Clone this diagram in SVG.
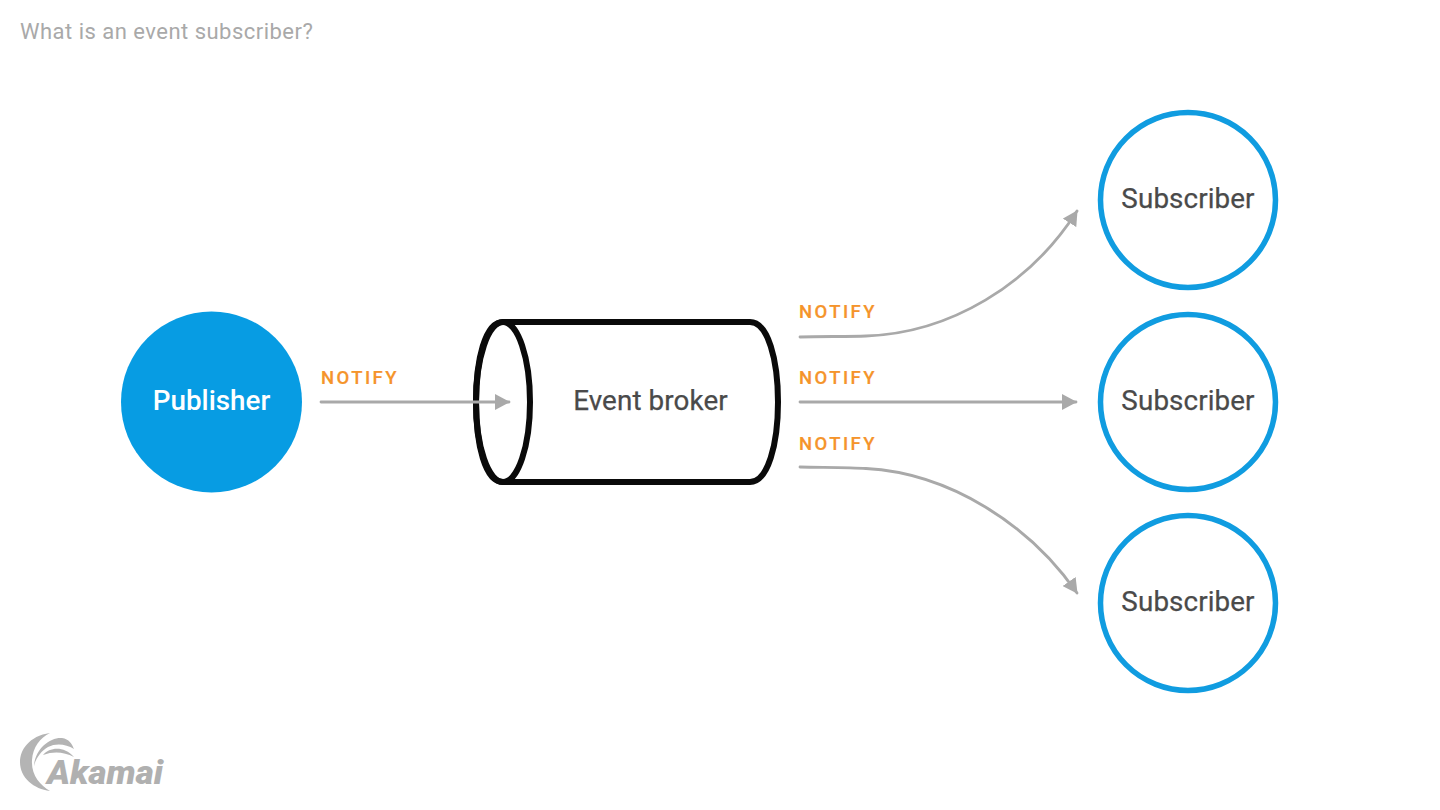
<svg xmlns="http://www.w3.org/2000/svg" width="1440" height="810" viewBox="0 0 1440 810">
  <style>
    text { font-family: Roboto, "Liberation Sans", sans-serif; }
    .title { font-size: 22px; fill: #a9a9a9; letter-spacing: 0.48px; }
    .node { font-size: 27.8px; fill: #4a4a4a; text-anchor: middle; stroke: #4a4a4a; stroke-width: 0.25; letter-spacing: 0.1px; }
    .pub { font-size: 27.8px; font-weight: 500; fill: #ffffff; text-anchor: middle; }
    .tag { font-size: 18.5px; font-weight: 500; fill: #f5942b; letter-spacing: 2.4px; stroke: #f5942b; stroke-width: 0.2; }
    .ring { fill: #ffffff; stroke: #109ce0; stroke-width: 5.5; }
    .wire { fill: none; stroke: #a9a9a9; stroke-width: 2.8; stroke-linecap: round; marker-end: url(#head); }
    .drum { fill: #ffffff; stroke: #0a0a0a; stroke-width: 6; }
    .logo-mark { fill: #b4b4b4; }
  </style>
  <defs>
    <marker id="head" viewBox="0 0 15 16" refX="14" refY="8" markerWidth="15" markerHeight="16" markerUnits="userSpaceOnUse" orient="auto">
      <path d="M0 0 L15 8 L0 16 Z" fill="#a9a9a9"/>
    </marker>
  </defs>
  <rect width="1440" height="810" fill="#ffffff"/>

  <text class="title" x="20" y="38.500">What is an event subscriber?</text>

  <g id="publisher">
    <circle cx="211.500" cy="402" r="90.500" fill="#079ce3"/>
    <text class="pub" x="211.500" y="410">Publisher</text>
  </g>

  <g id="event-broker">
    <path class="drum" d="M503 322 H750 C768 322 778 360 778 402 C778 444 768 482 750 482 H503 C485 482 476 444 476 402 C476 360 485 322 503 322 Z"/>
    <ellipse cx="503" cy="402" rx="27" ry="80" fill="none" stroke="#0a0a0a" stroke-width="6"/>
    <text class="node" x="650.500" y="409.500">Event broker</text>
  </g>

  <g id="subscriber-1">
    <circle class="ring" cx="1188" cy="200" r="87.500"/>
    <text class="node" x="1188" y="208">Subscriber</text>
  </g>
  <g id="subscriber-2">
    <circle class="ring" cx="1188" cy="402" r="87.500"/>
    <text class="node" x="1188" y="410">Subscriber</text>
  </g>
  <g id="subscriber-3">
    <circle class="ring" cx="1188" cy="603" r="87.500"/>
    <text class="node" x="1188" y="611">Subscriber</text>
  </g>

  <g id="connectors">
    <path class="wire" d="M321 402 H509"/>
    <path class="wire" d="M800 337 C820 336.500 850 336.500 866 336 C950 333 1030 285 1077 211"/>
    <path class="wire" d="M800 402 H1076"/>
    <path class="wire" d="M800 467 C820 467.500 850 467.500 866 468.500 C950 473 1030 525 1077 593"/>
  </g>

  <g id="notify-labels">
    <text class="tag" x="321" y="384">NOTIFY</text>
    <text class="tag" x="799" y="318">NOTIFY</text>
    <text class="tag" x="799" y="384">NOTIFY</text>
    <text class="tag" x="799" y="450">NOTIFY</text>
  </g>

  <g id="akamai-logo">
    <path class="logo-mark" d="M50 733 C29 736 20 750 20 762 C20 778 34 789 50 791 C40 785 31 775 32 760 C33 747 40 738 50 733 Z"/>
    <path class="logo-mark" d="M34 766 C35 749 50 737 62 738 C69 739 72 744 74 749 C66 744 56 743 48 747 C41 751 36 758 34 766 Z"/>
    <path class="logo-mark" d="M43 755 C50 747 64 746 74 757 C64 752 54 751 43 755 Z"/>
    <text x="47" y="784" font-size="33" font-weight="900" font-style="italic" fill="#b0b0b0" textLength="116" lengthAdjust="spacingAndGlyphs">Akamai</text>
  </g>
</svg>
